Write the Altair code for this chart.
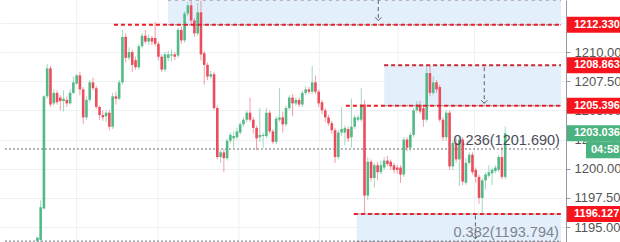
import altair as alt
import pandas as pd

# ---- OHLC candles, oldest first ----
opens = [
    1193.8, 1193.9, 1196.6, 1206.2, 1208.6, 1205.6, 1206.5, 1206.1, 1205.8, 1205.9,
    1205.6, 1206.5, 1207.3, 1208.0, 1206.8, 1204.4, 1205.9, 1207.4, 1206.9, 1205.3,
    1204.6, 1204.5, 1204.8, 1203.6, 1206.2, 1206.0, 1207.4, 1211.3, 1209.5, 1210.0,
    1209.3, 1208.7, 1210.5, 1211.4, 1210.9, 1211.2, 1211.2, 1210.7, 1209.6, 1208.5,
    1209.5, 1209.7, 1209.8, 1209.7, 1211.9, 1211.0, 1213.3, 1214.0, 1212.7, 1211.6,
    1213.4, 1209.9, 1208.9, 1207.9, 1208.1, 1205.2, 1201.0, 1201.4, 1200.9, 1202.4,
    1202.6, 1202.7, 1203.1, 1203.8, 1204.2, 1204.8, 1204.2, 1203.5, 1202.7, 1202.8,
    1202.8, 1204.8, 1203.2, 1202.3, 1204.2, 1204.4, 1203.8, 1205.2, 1206.1, 1205.6,
    1205.9, 1205.5, 1206.5, 1206.8, 1206.6, 1207.4, 1206.6, 1205.7, 1205.0, 1204.4,
    1203.9, 1203.3, 1201.0, 1203.1, 1203.1, 1203.4, 1202.7, 1203.6, 1204.2, 1204.2,
    1205.5, 1197.7, 1200.6, 1199.2, 1200.3, 1199.7, 1200.1, 1200.7, 1200.6, 1200.3,
    1200.1, 1200.1, 1199.5, 1202.5, 1201.8, 1202.9, 1205.0, 1205.5, 1205.2, 1204.2,
    1208.2, 1206.5, 1207.4, 1207.0, 1204.2, 1202.7, 1204.8, 1200.2, 1202.2, 1200.8,
    1202.5, 1198.8, 1200.5, 1201.2, 1199.9, 1199.3, 1197.5, 1199.0, 1199.4, 1199.6,
    1199.8, 1199.9, 1201.0, 1199.3,
]
highs = [
    1194.1, 1197.3, 1206.3, 1209.0, 1208.8, 1206.8, 1206.7, 1206.3, 1206.7, 1206.2,
    1206.8, 1207.9, 1208.1, 1208.3, 1207.0, 1206.2, 1207.6, 1207.8, 1207.1, 1205.4,
    1205.0, 1205.0, 1205.0, 1206.5, 1206.6, 1207.6, 1211.9, 1211.6, 1210.4, 1210.2,
    1209.6, 1210.7, 1211.6, 1211.9, 1211.5, 1211.4, 1212.6, 1210.9, 1209.8, 1210.0,
    1210.1, 1210.2, 1210.0, 1212.1, 1212.2, 1213.5, 1214.3, 1214.4, 1212.9, 1214.2,
    1214.4, 1210.1, 1209.1, 1208.4, 1208.3, 1205.4, 1201.6, 1201.7, 1202.6, 1203.1,
    1203.2, 1203.5, 1204.0, 1204.4, 1205.0, 1206.1, 1204.4, 1203.7, 1205.2, 1203.1,
    1205.2, 1205.0, 1203.4, 1204.5, 1206.9, 1204.9, 1205.4, 1206.3, 1206.4, 1206.1,
    1206.1, 1206.7, 1207.1, 1207.0, 1208.8, 1208.0, 1206.8, 1205.9, 1205.2, 1204.6,
    1204.1, 1203.5, 1203.3, 1205.3, 1203.7, 1203.6, 1206.0, 1204.6, 1204.6, 1206.9,
    1205.9, 1201.0, 1200.8, 1200.5, 1200.6, 1200.7, 1201.0, 1201.1, 1200.8, 1200.5,
    1200.3, 1200.3, 1202.7, 1202.7, 1203.1, 1205.2, 1205.8, 1205.8, 1205.4, 1208.9,
    1208.9, 1207.9, 1207.6, 1207.2, 1204.4, 1205.0, 1205.0, 1202.4, 1202.6, 1202.8,
    1202.7, 1200.9, 1201.4, 1201.4, 1200.1, 1199.5, 1199.2, 1199.7, 1200.3, 1200.1,
    1200.3, 1201.2, 1201.9, 1203.6,
]
lows = [
    1193.7, 1193.7, 1196.5, 1206.0, 1205.3, 1205.4, 1205.5, 1205.0, 1204.9, 1205.3,
    1205.5, 1206.4, 1207.2, 1206.3, 1203.8, 1204.2, 1205.7, 1206.7, 1205.1, 1204.2,
    1204.1, 1204.0, 1203.3, 1203.4, 1205.5, 1205.9, 1207.2, 1209.1, 1209.3, 1208.3,
    1208.5, 1208.5, 1210.3, 1210.7, 1210.6, 1210.6, 1210.5, 1209.3, 1208.3, 1208.3,
    1209.2, 1209.2, 1209.3, 1209.5, 1210.7, 1210.8, 1213.1, 1212.4, 1211.3, 1211.4,
    1209.3, 1207.2, 1207.6, 1207.7, 1205.0, 1200.8, 1200.5, 1199.7, 1200.7, 1202.2,
    1201.8, 1202.5, 1202.9, 1203.6, 1204.0, 1204.0, 1203.0, 1201.6, 1202.3, 1201.8,
    1202.6, 1203.0, 1202.1, 1202.1, 1204.0, 1203.1, 1203.6, 1205.0, 1204.5, 1205.4,
    1205.3, 1205.3, 1206.3, 1206.4, 1206.4, 1206.4, 1205.3, 1204.7, 1204.0, 1203.7,
    1203.0, 1200.5, 1200.8, 1202.8, 1202.0, 1202.3, 1201.8, 1203.4, 1204.0, 1204.0,
    1196.2, 1197.3, 1198.9, 1198.4, 1199.0, 1199.5, 1199.9, 1200.2, 1199.9, 1199.6,
    1199.6, 1198.8, 1199.3, 1201.5, 1201.5, 1202.7, 1204.8, 1204.7, 1203.6, 1204.0,
    1206.2, 1206.3, 1206.5, 1204.0, 1202.4, 1202.4, 1199.9, 1199.9, 1200.5, 1198.5,
    1198.6, 1198.6, 1200.3, 1199.5, 1198.8, 1197.0, 1196.1, 1198.2, 1199.2, 1198.6,
    1199.6, 1199.7, 1199.1, 1199.1,
]
closes = [
    1194.1, 1196.7, 1206.2, 1208.6, 1205.5, 1206.5, 1205.7, 1205.8, 1206.0, 1205.6,
    1206.5, 1207.4, 1208.0, 1206.8, 1204.4, 1205.9, 1207.4, 1206.9, 1205.3, 1204.6,
    1204.4, 1204.8, 1203.6, 1206.2, 1206.0, 1207.4, 1211.3, 1209.5, 1210.0, 1208.9,
    1208.7, 1210.5, 1211.4, 1210.9, 1211.2, 1210.9, 1210.7, 1209.6, 1208.5, 1209.8,
    1209.8, 1209.8, 1209.6, 1211.9, 1211.0, 1213.3, 1214.0, 1212.7, 1211.6, 1213.4,
    1209.8, 1208.9, 1207.9, 1208.1, 1205.2, 1201.0, 1201.4, 1200.9, 1202.4, 1202.9,
    1202.8, 1203.2, 1203.8, 1204.2, 1204.8, 1204.2, 1203.5, 1202.6, 1202.9, 1202.9,
    1204.8, 1203.2, 1202.3, 1204.3, 1204.4, 1203.8, 1205.2, 1206.1, 1205.6, 1205.9,
    1205.5, 1206.5, 1206.8, 1206.6, 1207.4, 1206.6, 1205.6, 1205.0, 1204.4, 1203.9,
    1203.3, 1201.0, 1203.1, 1203.4, 1203.5, 1202.6, 1203.6, 1204.4, 1204.4, 1205.5,
    1197.7, 1200.6, 1199.2, 1200.3, 1199.7, 1200.3, 1200.7, 1200.4, 1200.2, 1199.9,
    1199.9, 1199.5, 1202.5, 1201.8, 1202.9, 1205.0, 1205.5, 1204.9, 1204.2, 1208.2,
    1206.5, 1207.4, 1206.8, 1204.2, 1202.7, 1204.8, 1200.2, 1202.2, 1200.8, 1202.5,
    1198.9, 1200.5, 1201.2, 1199.7, 1199.3, 1197.5, 1199.0, 1199.5, 1199.7, 1199.9,
    1200.1, 1201.0, 1199.3, 1203.036,
]

# ---- drawing tools (anchored on bar numbers) ----
ray_prices = [1212.330, 1208.863, 1205.396, 1196.127]
ray_start_bars = [23.4, 106.0, 94.3, 96.7]

box_start_bars = [39.9, 106.0, 97.6]
box_low = [1212.330, 1205.396, 1193.72]
box_high = [1214.46, 1208.863, 1196.127]

arrow_bars = [104.2, 136.6, 133.9]
arrow_from = [1214.46, 1208.70, 1196.00]
arrow_to = [1212.70, 1205.60, 1194.00]

fib_labels = ["0.236(1201.690)", "0.382(1193.794)"]
fib_prices = [1201.690, 1193.794]
fib_label_bar = 127.2

grid_bars = [12.0, 36.9, 61.6, 86.2, 110.2, 133.6]
price_ticks = [1195.0, 1197.5, 1200.0, 1202.5, 1205.0, 1207.5, 1210.0, 1212.5]

tag_labels = ["1212.330", "1208.863", "1205.396", "1196.127", "1203.036"]
tag_prices = [1212.330, 1208.863, 1205.396, 1196.127, 1203.036]
tag_kinds = ["level", "level", "level", "level", "last"]
countdown = "04:58"

PRICE_DOMAIN = [1193.72, 1214.46]
BAR_DOMAIN = [-9.9, 160.06]
UP, DOWN = "#53b987", "#eb4d5c"
TAG_FILL = {"level": "#f7141c", "last": "#4bb37f"}
FIB_INK = {"0.236(1201.690)": "#4a4d57", "0.382(1193.794)": "#7d8391"}
FONT = "Liberation Sans"

n = len(closes)
candles = pd.DataFrame({
    "bar": list(range(n)),
    "open": opens, "high": highs, "low": lows, "close": closes,
})
candles["side"] = ["up" if c >= o else "down" for o, c in zip(opens, closes)]

xs = alt.Scale(domain=BAR_DOMAIN, nice=False, zero=False)
ys = alt.Scale(domain=PRICE_DOMAIN, nice=False, zero=False)
side_color = alt.Color("side:N", scale=alt.Scale(domain=["up", "down"], range=[UP, DOWN]), legend=None)

# one shared price axis (right side) with horizontal grid
y_axis = alt.Axis(
    orient="right", values=price_ticks, format=".3f", title=None,
    grid=True, gridColor="#eef0f3", gridWidth=1,
    domainColor="#9598a1", tickColor="#9598a1", tickSize=4,
    labelPadding=4, labelFont=FONT, labelFontSize=13, labelColor="#555555",
)


def X(field):
    return alt.X(field, scale=xs, axis=None)


def Y(field):
    return alt.Y(field, scale=ys, axis=y_axis)


vgrid = alt.Chart(pd.DataFrame({"bar": grid_bars})).mark_rule(color="#eef0f3", strokeWidth=1).encode(
    x=X("bar:Q"), y=alt.value(0), y2=alt.value(242)
)

boxes_df = pd.DataFrame({"b0": box_start_bars, "lo": box_low, "hi": box_high})
boxes_df["b1"] = BAR_DOMAIN[1]
boxes = alt.Chart(boxes_df).mark_rect(color="#e4effc").encode(
    x=X("b0:Q"), x2="b1:Q", y=Y("lo:Q"), y2="hi:Q",
)

wicks = alt.Chart(candles).mark_rule(strokeWidth=1, opacity=0.55).encode(
    x=X("bar:Q"), y=Y("low:Q"), y2="high:Q", color=side_color,
)
bodies = alt.Chart(candles).mark_bar(size=2.6).encode(
    x=X("bar:Q"), y=Y("open:Q"), y2="close:Q", color=side_color,
)

rays_df = pd.DataFrame({"b0": ray_start_bars, "p": ray_prices})
rays_df["b1"] = BAR_DOMAIN[1]
rays = alt.Chart(rays_df).mark_rule(color="#ee1c25", strokeWidth=2, strokeDash=[4, 3]).encode(
    x=X("b0:Q"), x2="b1:Q", y=Y("p:Q"),
)

# dashed borders along the box edges
edges_df = pd.DataFrame({"b0": box_start_bars + box_start_bars, "p": box_low + box_high})
edges_df["b1"] = BAR_DOMAIN[1]
edges = alt.Chart(edges_df).mark_rule(color="#7a5560", strokeWidth=1, strokeDash=[3, 4], opacity=0.8).encode(
    x=X("b0:Q"), x2="b1:Q", y=Y("p:Q"),
)

fib_df = pd.DataFrame({"label": fib_labels, "p": fib_prices, "bar": fib_label_bar})
fib_df["b0"] = BAR_DOMAIN[0]
fib_df["b1"] = BAR_DOMAIN[1]
fib_df["ink"] = fib_df["label"].map(FIB_INK)
fib_lines = alt.Chart(fib_df).mark_rule(color="#6a6d78", strokeWidth=1, strokeDash=[2, 2]).encode(
    x=X("b0:Q"), x2="b1:Q", y=Y("p:Q"),
)
fib_text = alt.Chart(fib_df).mark_text(
    align="left", baseline="bottom", dy=-1, font=FONT, fontSize=14.5
).encode(
    x=X("bar:Q"), y=Y("p:Q"), text="label:N",
    color=alt.Color("ink:N", scale=None),
)

arrows_df = pd.DataFrame({"bar": arrow_bars, "p0": arrow_from, "p1": arrow_to})
arrow_lines = alt.Chart(arrows_df).mark_rule(color="#5d606b", strokeWidth=1, strokeDash=[4, 3]).encode(
    x=X("bar:Q"), y=Y("p0:Q"), y2="p1:Q",
)
arrow_heads = alt.Chart(arrows_df).mark_point(
    shape="M-1,-1L0,0L1,-1", filled=False, size=40, color="#5d606b", strokeWidth=1, opacity=1
).encode(
    x=X("bar:Q"), y=Y("p1:Q"),
)

tags_df = pd.DataFrame({"label": tag_labels, "p": tag_prices, "kind": tag_kinds})
tags_df["fill"] = tags_df["kind"].map(TAG_FILL)
tag_boxes = alt.Chart(tags_df).mark_rect(yOffset=-8, y2Offset=8).encode(
    x=alt.value(567), x2=alt.value(630),
    y=Y("p:Q"), y2="p:Q",
    color=alt.Color("fill:N", scale=None),
)
tag_text = alt.Chart(tags_df).mark_text(
    align="left", baseline="middle", font=FONT, fontSize=11, fontWeight="bold", color="white"
).encode(
    x=alt.value(574), y=Y("p:Q"), text="label:N",
)

last_df = pd.DataFrame({"p": [closes[-1]], "label": [countdown]})
clock_box = alt.Chart(last_df).mark_rect(color=TAG_FILL["last"], yOffset=8, y2Offset=25).encode(
    x=alt.value(586), x2=alt.value(630),
    y=Y("p:Q"), y2="p:Q",
)
clock_text = alt.Chart(last_df).mark_text(
    align="left", baseline="middle", dy=17, font=FONT, fontSize=11, fontWeight="bold", color="white"
).encode(
    x=alt.value(591), y=Y("p:Q"), text="label:N",
)

chart = alt.layer(
    vgrid, boxes, fib_lines, wicks, bodies, rays, edges,
    arrow_lines, arrow_heads, fib_text, tag_boxes, tag_text, clock_box, clock_text,
).properties(
    width=566, height=242,
    autosize=alt.AutoSizeParams(type="none"),
    padding={"left": 0, "top": 0, "right": 54, "bottom": 0},
    background="white",
).configure_view(strokeWidth=0)

chart.save("out.html", embed_options={"renderer": "svg", "actions": False})
